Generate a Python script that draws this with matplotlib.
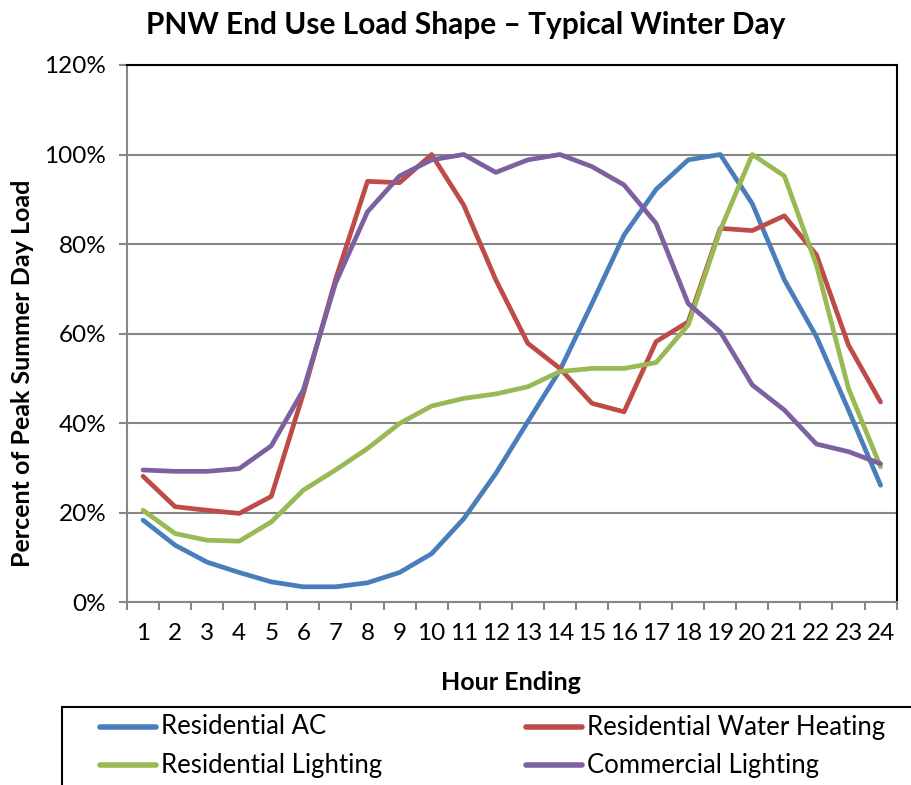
import numpy as np
import matplotlib.pyplot as plt
from matplotlib.lines import Line2D
from matplotlib.patches import Rectangle

plt.rcParams['font.family'] = ['Lato', 'DejaVu Sans']

# --- data (percent of peak summer day load) ---
hours = list(range(1, 25))
residential_ac = [18.3, 12.7, 8.9, 6.6, 4.5, 3.4, 3.4, 4.3, 6.6, 10.8, 18.6, 28.7,
                  40.3, 51.8, 66.7, 82.0, 92.2, 98.8, 100.0, 89.0, 72.0, 59.3, 42.9, 26.1]
residential_wh = [28.1, 21.3, 20.5, 19.8, 23.6, 46.6, 72.0, 94.0, 93.7, 100.0, 88.7, 72.0,
                  57.8, 52.2, 44.4, 42.5, 58.2, 62.6, 83.5, 83.0, 86.3, 77.6, 57.4, 44.7]
residential_light = [20.5, 15.3, 13.8, 13.6, 17.9, 25.0, 29.5, 34.3, 39.9, 43.8, 45.5, 46.5,
                     48.1, 51.5, 52.2, 52.2, 53.5, 61.9, 83.1, 100.0, 95.2, 75.3, 47.7, 30.2]
commercial_light = [29.5, 29.2, 29.2, 29.8, 34.9, 47.4, 71.2, 87.2, 95.2, 98.8, 100.0, 96.0,
                    98.8, 100.0, 97.3, 93.2, 84.6, 66.7, 60.4, 48.5, 42.9, 35.3, 33.6, 30.9]

series_names = ['Residential AC', 'Residential Water Heating',
                'Residential Lighting', 'Commercial Lighting']
series_values = [residential_ac, residential_wh, residential_light, commercial_light]
series_colors = ['#4A7EBB', '#BE4B48', '#98B954', '#7D60A0']

y_ticks = [0, 20, 40, 60, 80, 100, 120]

fig = plt.figure(figsize=(9.11, 7.85), dpi=100)
ax = fig.add_axes([0.1394, 0.2331, 0.8448, 0.6841])

for vals, col in zip(series_values, series_colors):
    ax.plot(hours, vals, color=col, linewidth=3.4, solid_joinstyle='round',
            solid_capstyle='round', zorder=3)

ax.set_xlim(0.5, 24.5)
ax.set_ylim(0, 120)
ax.set_yticks(y_ticks)
ax.set_yticklabels([f'{v}%' for v in y_ticks])
ax.set_xticks(hours)
ax.set_xticklabels([str(h) for h in hours])
ax.set_xticks(np.arange(0.5, 25, 1), minor=True)
ax.tick_params(axis='x', which='major', length=0, pad=15, labelsize=17.5)
ax.tick_params(axis='x', which='minor', length=6, width=1.5, color='#868686')
ax.tick_params(axis='y', length=6, width=1.5, color='#868686', labelsize=17.5, pad=9)

ax.grid(True, axis='y', color='#868686', linewidth=1.5, zorder=1)
ax.set_axisbelow(True)
for side in ['left', 'bottom']:
    ax.spines[side].set_color('#868686')
    ax.spines[side].set_linewidth(1.5)
for side in ['top', 'right']:
    ax.spines[side].set_color('black')
    ax.spines[side].set_linewidth(1.5)

ax.set_xlabel('Hour Ending', fontsize=18, fontweight='bold', va='center')
ax.xaxis.set_label_coords(0.4987, -0.149)
ax.set_ylabel('Percent of Peak Summer Day Load', fontsize=18, fontweight='bold', va='center')
ax.yaxis.set_label_coords(-0.1364, 0.4264)
fig.text(0.511, 0.968, 'PNW End Use Load Shape \u2013 Typical Winter Day',
         ha='center', va='center', fontsize=21.5, fontweight='bold')

# legend box, cut off by the image edge like the reference
fig.patches.append(Rectangle((62 / 911, -0.1), 1.0, 1 - 707 / 785 + 0.1,
                             transform=fig.transFigure, fill=False,
                             edgecolor='black', linewidth=1.5))
leg_pos = [(100, 727), (526, 727), (100, 765), (526, 765)]
for name, col, (px, py) in zip(series_names, series_colors, leg_pos):
    yf = 1 - py / 785
    fig.add_artist(Line2D([px / 911, (px + 56) / 911], [yf, yf], color=col,
                          linewidth=4, solid_capstyle='round',
                          transform=fig.transFigure))
    fig.text((px + 61) / 911, yf, name, ha='left', va='center', fontsize=18.5)

fig.savefig('out.png', dpi=100)
